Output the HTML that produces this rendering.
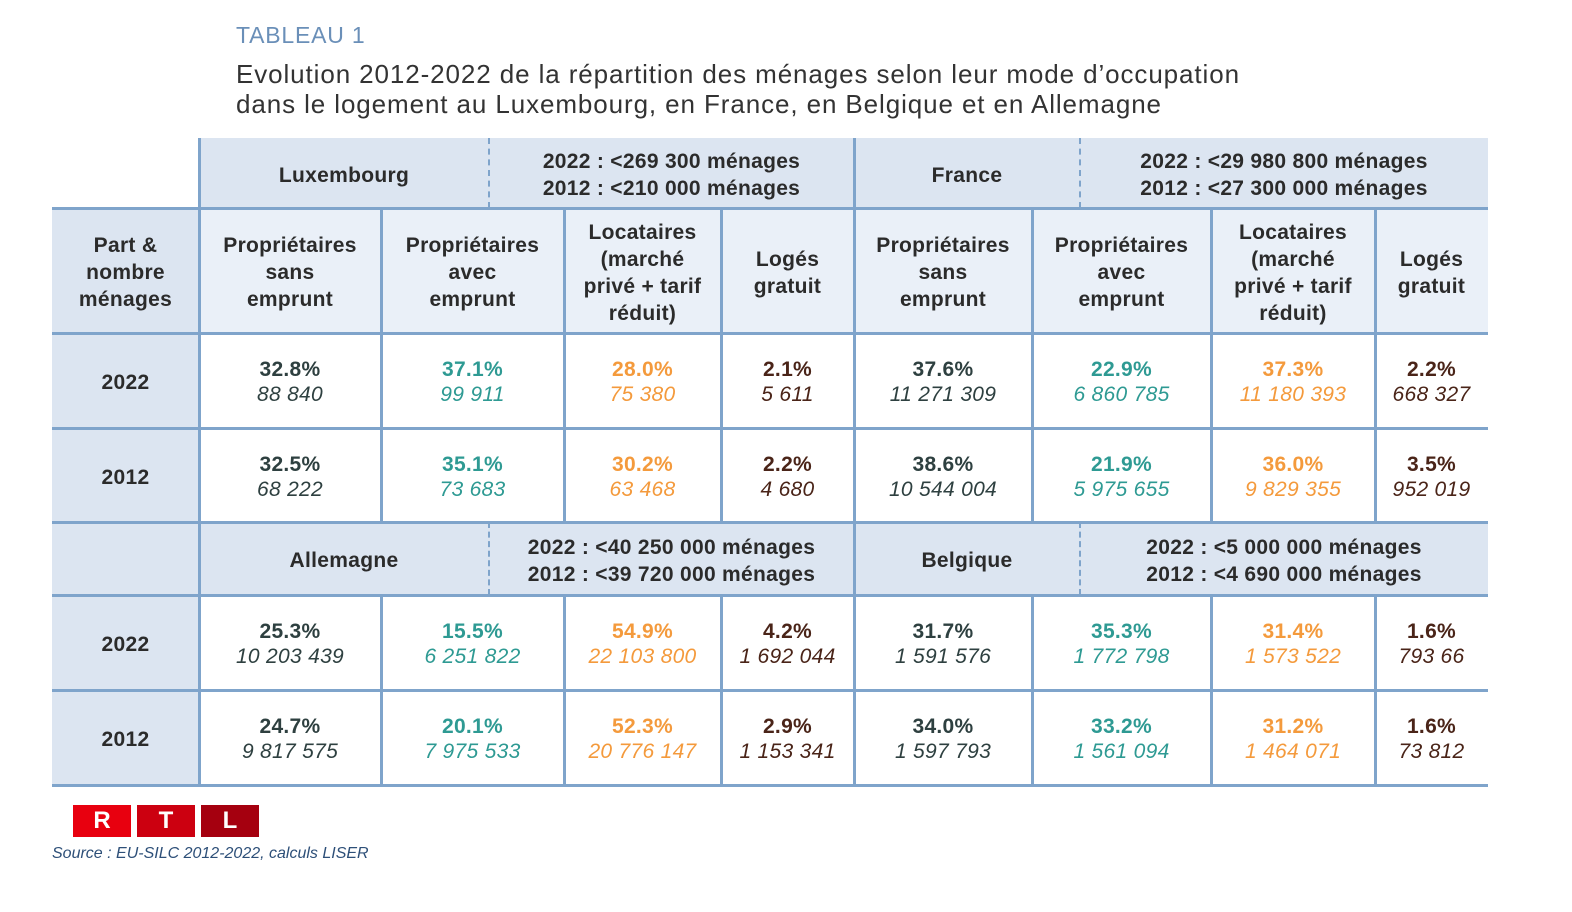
<!DOCTYPE html>
<html><head><meta charset="utf-8"><style>
body{margin:0;width:1572px;height:912px;background:#fff;position:relative;font-family:"Liberation Sans",sans-serif;overflow:hidden}
.a{position:absolute}
.c{position:absolute;display:flex;flex-direction:column;align-items:center;justify-content:center;text-align:center;color:#2b2b2b;font-weight:bold;font-size:21px;line-height:27px;letter-spacing:0.3px;padding-top:4px;box-sizing:border-box}
.h{background:#dce5f1}
.l{background:#eaf0f8}
.hl{position:absolute;height:3px;background:#7fa4cb}
.vl{position:absolute;width:3px;background:#7fa4cb}
.dl{position:absolute;width:0;border-left:2px dashed #7fa4cb}
.p{font-weight:bold;font-size:21px;line-height:25px}
.n{font-weight:normal;font-style:italic;font-size:21px;line-height:26px}
.k{color:#2e4040}.t{color:#2e9a93}.o{color:#f49a3c}.b{color:#4a2418}
</style></head><body>
<div class="a" style="left:236px;top:22px;font-size:23px;color:#6a8fb8;letter-spacing:0.8px">TABLEAU 1</div>
<div class="a" style="left:236px;top:59px;font-size:26px;line-height:30px;color:#333;letter-spacing:0.9px;white-space:nowrap">Evolution 2012-2022 de la répartition des ménages selon leur mode d’occupation<br>dans le logement au Luxembourg, en France, en Belgique et en Allemagne</div>

<div class="c h" style="left:199px;top:138px;width:290px;height:70px">Luxembourg</div>
<div class="c h" style="left:489px;top:138px;width:365px;height:70px">2022 : &lt;269 300 ménages<br>2012 : &lt;210 000 ménages</div>
<div class="c h" style="left:854px;top:138px;width:226px;height:70px">France</div>
<div class="c h" style="left:1080px;top:138px;width:408px;height:70px">2022 : &lt;29 980 800 ménages<br>2012 : &lt;27 300 000 ménages</div>

<div class="c h" style="left:52px;top:208px;width:147px;height:125px">Part &amp;<br>nombre<br>ménages</div>
<div class="c l" style="left:199px;top:208px;width:182px;height:125px">Propriétaires<br>sans<br>emprunt</div>
<div class="c l" style="left:381px;top:208px;width:183px;height:125px">Propriétaires<br>avec<br>emprunt</div>
<div class="c l" style="left:564px;top:208px;width:157px;height:125px">Locataires<br>(marché<br>privé + tarif<br>réduit)</div>
<div class="c l" style="left:721px;top:208px;width:133px;height:125px">Logés<br>gratuit</div>
<div class="c l" style="left:854px;top:208px;width:178px;height:125px">Propriétaires<br>sans<br>emprunt</div>
<div class="c l" style="left:1032px;top:208px;width:179px;height:125px">Propriétaires<br>avec<br>emprunt</div>
<div class="c l" style="left:1211px;top:208px;width:164px;height:125px">Locataires<br>(marché<br>privé + tarif<br>réduit)</div>
<div class="c l" style="left:1375px;top:208px;width:113px;height:125px">Logés<br>gratuit</div>

<div class="c h" style="left:52px;top:333px;width:147px;height:95px">2022</div>
<div class="c" style="left:199px;top:333px;width:182px;height:95px"><span class="p k">32.8%</span><span class="n k">88 840</span></div>
<div class="c" style="left:381px;top:333px;width:183px;height:95px"><span class="p t">37.1%</span><span class="n t">99 911</span></div>
<div class="c" style="left:564px;top:333px;width:157px;height:95px"><span class="p o">28.0%</span><span class="n o">75 380</span></div>
<div class="c" style="left:721px;top:333px;width:133px;height:95px"><span class="p b">2.1%</span><span class="n b">5 611</span></div>
<div class="c" style="left:854px;top:333px;width:178px;height:95px"><span class="p k">37.6%</span><span class="n k">11 271 309</span></div>
<div class="c" style="left:1032px;top:333px;width:179px;height:95px"><span class="p t">22.9%</span><span class="n t">6 860 785</span></div>
<div class="c" style="left:1211px;top:333px;width:164px;height:95px"><span class="p o">37.3%</span><span class="n o">11 180 393</span></div>
<div class="c" style="left:1375px;top:333px;width:113px;height:95px"><span class="p b">2.2%</span><span class="n b">668 327</span></div>

<div class="c h" style="left:52px;top:428px;width:147px;height:94px">2012</div>
<div class="c" style="left:199px;top:428px;width:182px;height:94px"><span class="p k">32.5%</span><span class="n k">68 222</span></div>
<div class="c" style="left:381px;top:428px;width:183px;height:94px"><span class="p t">35.1%</span><span class="n t">73 683</span></div>
<div class="c" style="left:564px;top:428px;width:157px;height:94px"><span class="p o">30.2%</span><span class="n o">63 468</span></div>
<div class="c" style="left:721px;top:428px;width:133px;height:94px"><span class="p b">2.2%</span><span class="n b">4 680</span></div>
<div class="c" style="left:854px;top:428px;width:178px;height:94px"><span class="p k">38.6%</span><span class="n k">10 544 004</span></div>
<div class="c" style="left:1032px;top:428px;width:179px;height:94px"><span class="p t">21.9%</span><span class="n t">5 975 655</span></div>
<div class="c" style="left:1211px;top:428px;width:164px;height:94px"><span class="p o">36.0%</span><span class="n o">9 829 355</span></div>
<div class="c" style="left:1375px;top:428px;width:113px;height:94px"><span class="p b">3.5%</span><span class="n b">952 019</span></div>

<div class="c h" style="left:52px;top:522px;width:147px;height:73px"></div>
<div class="c h" style="left:199px;top:522px;width:290px;height:73px">Allemagne</div>
<div class="c h" style="left:489px;top:522px;width:365px;height:73px">2022 : &lt;40 250 000 ménages<br>2012 : &lt;39 720 000 ménages</div>
<div class="c h" style="left:854px;top:522px;width:226px;height:73px">Belgique</div>
<div class="c h" style="left:1080px;top:522px;width:408px;height:73px">2022 : &lt;5 000 000 ménages<br>2012 : &lt;4 690 000 ménages</div>

<div class="c h" style="left:52px;top:595px;width:147px;height:95px">2022</div>
<div class="c" style="left:199px;top:595px;width:182px;height:95px"><span class="p k">25.3%</span><span class="n k">10 203 439</span></div>
<div class="c" style="left:381px;top:595px;width:183px;height:95px"><span class="p t">15.5%</span><span class="n t">6 251 822</span></div>
<div class="c" style="left:564px;top:595px;width:157px;height:95px"><span class="p o">54.9%</span><span class="n o">22 103 800</span></div>
<div class="c" style="left:721px;top:595px;width:133px;height:95px"><span class="p b">4.2%</span><span class="n b">1 692 044</span></div>
<div class="c" style="left:854px;top:595px;width:178px;height:95px"><span class="p k">31.7%</span><span class="n k">1 591 576</span></div>
<div class="c" style="left:1032px;top:595px;width:179px;height:95px"><span class="p t">35.3%</span><span class="n t">1 772 798</span></div>
<div class="c" style="left:1211px;top:595px;width:164px;height:95px"><span class="p o">31.4%</span><span class="n o">1 573 522</span></div>
<div class="c" style="left:1375px;top:595px;width:113px;height:95px"><span class="p b">1.6%</span><span class="n b">793 66</span></div>

<div class="c h" style="left:52px;top:690px;width:147px;height:95px">2012</div>
<div class="c" style="left:199px;top:690px;width:182px;height:95px"><span class="p k">24.7%</span><span class="n k">9 817 575</span></div>
<div class="c" style="left:381px;top:690px;width:183px;height:95px"><span class="p t">20.1%</span><span class="n t">7 975 533</span></div>
<div class="c" style="left:564px;top:690px;width:157px;height:95px"><span class="p o">52.3%</span><span class="n o">20 776 147</span></div>
<div class="c" style="left:721px;top:690px;width:133px;height:95px"><span class="p b">2.9%</span><span class="n b">1 153 341</span></div>
<div class="c" style="left:854px;top:690px;width:178px;height:95px"><span class="p k">34.0%</span><span class="n k">1 597 793</span></div>
<div class="c" style="left:1032px;top:690px;width:179px;height:95px"><span class="p t">33.2%</span><span class="n t">1 561 094</span></div>
<div class="c" style="left:1211px;top:690px;width:164px;height:95px"><span class="p o">31.2%</span><span class="n o">1 464 071</span></div>
<div class="c" style="left:1375px;top:690px;width:113px;height:95px"><span class="p b">1.6%</span><span class="n b">73 812</span></div>

<div class="hl" style="left:52px;width:1436px;top:207px"></div>
<div class="hl" style="left:52px;width:1436px;top:332px"></div>
<div class="hl" style="left:52px;width:1436px;top:427px"></div>
<div class="hl" style="left:52px;width:1436px;top:521px"></div>
<div class="hl" style="left:52px;width:1436px;top:594px"></div>
<div class="hl" style="left:52px;width:1436px;top:689px"></div>
<div class="hl" style="left:52px;width:1436px;top:784px"></div>
<div class="vl" style="left:198px;top:138px;height:648px"></div>
<div class="vl" style="left:853px;top:138px;height:648px"></div>
<div class="vl" style="left:380px;top:208px;height:314px"></div>
<div class="vl" style="left:563px;top:208px;height:314px"></div>
<div class="vl" style="left:720px;top:208px;height:314px"></div>
<div class="vl" style="left:1031px;top:208px;height:314px"></div>
<div class="vl" style="left:1210px;top:208px;height:314px"></div>
<div class="vl" style="left:1374px;top:208px;height:314px"></div>
<div class="vl" style="left:380px;top:595px;height:190px"></div>
<div class="vl" style="left:563px;top:595px;height:190px"></div>
<div class="vl" style="left:720px;top:595px;height:190px"></div>
<div class="vl" style="left:1031px;top:595px;height:190px"></div>
<div class="vl" style="left:1210px;top:595px;height:190px"></div>
<div class="vl" style="left:1374px;top:595px;height:190px"></div>
<div class="dl" style="left:488px;top:138px;height:70px"></div>
<div class="dl" style="left:1079px;top:138px;height:70px"></div>
<div class="dl" style="left:488px;top:522px;height:73px"></div>
<div class="dl" style="left:1079px;top:522px;height:73px"></div>

<div class="a" style="left:73px;top:805px;width:58px;height:32px;background:#e8000f;color:#fff;font-weight:bold;font-size:24px;text-align:center;line-height:32px">R</div>
<div class="a" style="left:137px;top:805px;width:58px;height:32px;background:#cc0010;color:#fff;font-weight:bold;font-size:24px;text-align:center;line-height:32px">T</div>
<div class="a" style="left:201px;top:805px;width:58px;height:32px;background:#a5000f;color:#fff;font-weight:bold;font-size:24px;text-align:center;line-height:32px">L</div>
<div class="a" style="left:52px;top:845px;font-size:16px;font-style:italic;color:#2d4f78">Source : EU-SILC 2012-2022, calculs LISER</div>
</body></html>
